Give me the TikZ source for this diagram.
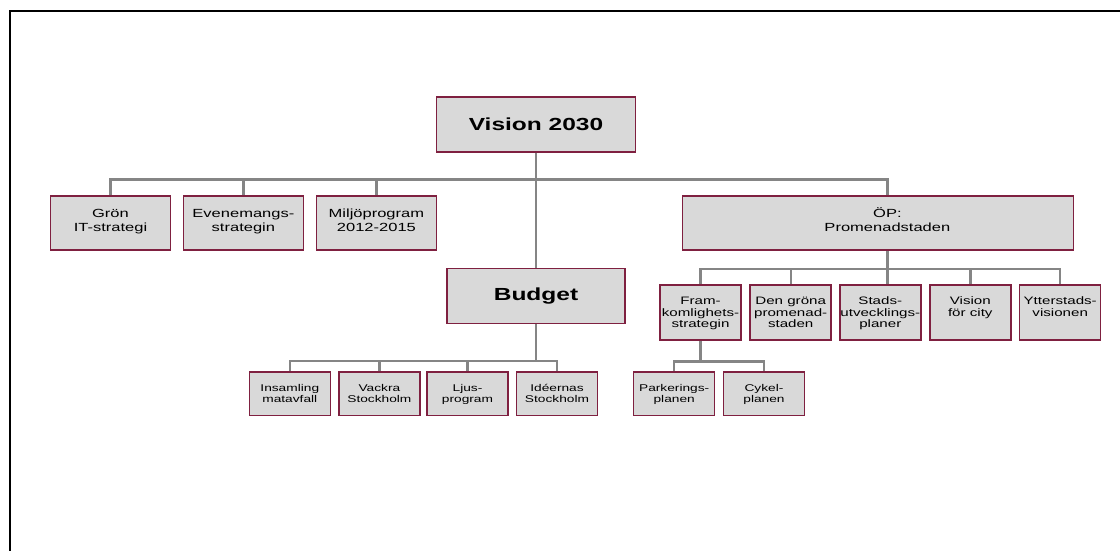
\documentclass[tikz,border=0pt]{standalone}
\usepackage{fontspec}
\newfontfamily\chartfont[FakeStretch=1.4]{Liberation Sans}
\usetikzlibrary{backgrounds}
\definecolor{boxfill}{HTML}{D9D9D9}
\definecolor{boxedge}{HTML}{7F2040}
\definecolor{wire}{HTML}{858585}
\newcommand\ml[1]{\begin{tabular}[t]{@{}c@{}}#1\end{tabular}}
\begin{document}
\begin{tikzpicture}[x=1pt,y=-1pt,
  box/.style 2 args={draw=boxedge, line width=1.5pt, fill=boxfill, inner sep=0pt,
    minimum width=#1, minimum height=#2},
  wire/.style={draw=wire, line width=2.4pt},
  big/.style={font={\chartfont\bfseries\fontsize{17.5}{20}\selectfont}, inner sep=0pt, anchor=base},
  mid/.style={font={\chartfont\fontsize{11.8}{14.2}\selectfont}, inner sep=0pt, anchor=base},
  small/.style={font={\chartfont\fontsize{10.8}{11.7}\selectfont}, inner sep=0pt, anchor=base},
  tiny/.style={font={\chartfont\fontsize{9.8}{11}\selectfont}, inner sep=0pt, anchor=base}]
\useasboundingbox (0,0) rectangle (1120,551);
\draw[line width=2.2pt, black] (10,560) -- (10,11) -- (1130,11);

% top level
\node[box={199pt}{54.5pt}] (vision) at (536,124.5) {};
\node[big] (visionT) at ([yshift=-5.5pt]vision.center) {Vision 2030};

% second level
\node[box={119.7pt}{54.3pt}] (gron) at (110.5,222.9) {};
\node[box={119.7pt}{54.3pt}] (even) at (243.4,222.9) {};
\node[box={119.7pt}{54.3pt}] (milj) at (376.4,222.9) {};
\node[box={391pt}{54.3pt}] (op) at (878,222.9) {};
\coordinate (opx) at (887.4,0);
\coordinate (opTop) at (op.north -| opx);
\node[mid] (gronT) at ([yshift=-22pt]gron.north) {\ml{Grön\\IT-strategi}};
\node[mid] (evenT) at ([yshift=-22pt]even.north) {\ml{Evenemangs-\\strategin}};
\node[mid] (miljT) at ([yshift=-22pt]milj.north) {\ml{Miljöprogram\\2012-2015}};
\node[mid] (opT) at ([yshift=-22pt]opTop) {\ml{ÖP:\\Promenadstaden}};

% budget
\node[box={178pt}{55pt}] (budget) at (536,295.8) {};
\node[big] (budgetT) at ([yshift=-4.9pt]budget.center) {Budget};

% ÖP children
\node[box={81pt}{55pt}] (fram) at (700.5,312.5) {};
\node[box={81pt}{55pt}] (gronap) at (790.7,312.5) {};
\node[box={81pt}{55pt}] (stads) at (880.3,312.5) {};
\node[box={81pt}{55pt}] (city) at (970.3,312.5) {};
\node[box={81pt}{55pt}] (ytter) at (1060.2,312.5) {};
\node[small] (framT) at ([yshift=-20.3pt]fram.north) {\ml{Fram-\\komlighets-\\strategin}};
\node[small] (gronapT) at ([yshift=-20.3pt]gronap.north) {\ml{Den gröna\\promenad-\\staden}};
\node[small] (stadsT) at ([yshift=-20.3pt]stads.north) {\ml{Stads-\\utvecklings-\\planer}};
\node[small] (cityT) at ([yshift=-20.3pt]city.north) {\ml{Vision\\för city}};
\node[small] (ytterT) at ([yshift=-20.3pt]ytter.north) {\ml{Ytterstads-\\visionen}};

% Fram children
\node[box={81pt}{43.3pt}] (park) at (674.2,393.7) {};
\node[box={81pt}{43.3pt}] (cykel) at (764,393.7) {};
\node[tiny] (parkT) at ([yshift=-19.7pt]park.north) {\ml{Parkerings-\\planen}};
\node[tiny] (cykelT) at ([yshift=-19.7pt]cykel.north) {\ml{Cykel-\\planen}};

% Budget children
\node[box={81pt}{43.3pt}] (insam) at (289.8,393.7) {};
\node[box={81pt}{43.3pt}] (vackra) at (379.4,393.7) {};
\node[box={81pt}{43.3pt}] (ljus) at (467.5,393.7) {};
\node[box={81pt}{43.3pt}] (ideer) at (557,393.7) {};
\node[tiny] (insamT) at ([yshift=-19.7pt]insam.north) {\ml{Insamling\\matavfall}};
\node[tiny] (vackraT) at ([yshift=-19.7pt]vackra.north) {\ml{Vackra\\Stockholm}};
\node[tiny] (ljusT) at ([yshift=-19.7pt]ljus.north) {\ml{Ljus-\\program}};
\node[tiny] (ideerT) at ([yshift=-19.7pt]ideer.north) {\ml{Idéernas\\Stockholm}};

% connectors
\begin{scope}[on background layer]
\coordinate (busY) at (0,179.3);
\coordinate (opbus) at (0,269);
\coordinate (bbus) at (0,361);
\coordinate (fbus) at (0,361.3);
\draw[wire] (vision.south) -- (budget.north);
\draw[wire] (gron.north) -- (gron.north |- busY) -- (busY -| opx) -- (opTop);
\draw[wire] (even.north) -- (even.north |- busY);
\draw[wire] (milj.north) -- (milj.north |- busY);
\draw[wire] (op.south -| opx) -- (stads.north -| opx);
\draw[wire] (fram.north) -- (fram.north |- opbus) -- (ytter.north |- opbus) -- (ytter.north);
\draw[wire] (gronap.north) -- (gronap.north |- opbus);
\draw[wire] (city.north) -- (city.north |- opbus);
\draw[wire] (budget.south) -- (budget.south |- bbus);
\draw[wire] (insam.north) -- (insam.north |- bbus) -- (ideer.north |- bbus) -- (ideer.north);
\draw[wire] (vackra.north) -- (vackra.north |- bbus);
\draw[wire] (ljus.north) -- (ljus.north |- bbus);
\draw[wire] (fram.south) -- (fram.south |- fbus);
\draw[wire] (park.north) -- (park.north |- fbus) -- (cykel.north |- fbus) -- (cykel.north);
\end{scope}
\end{tikzpicture}
\end{document}
